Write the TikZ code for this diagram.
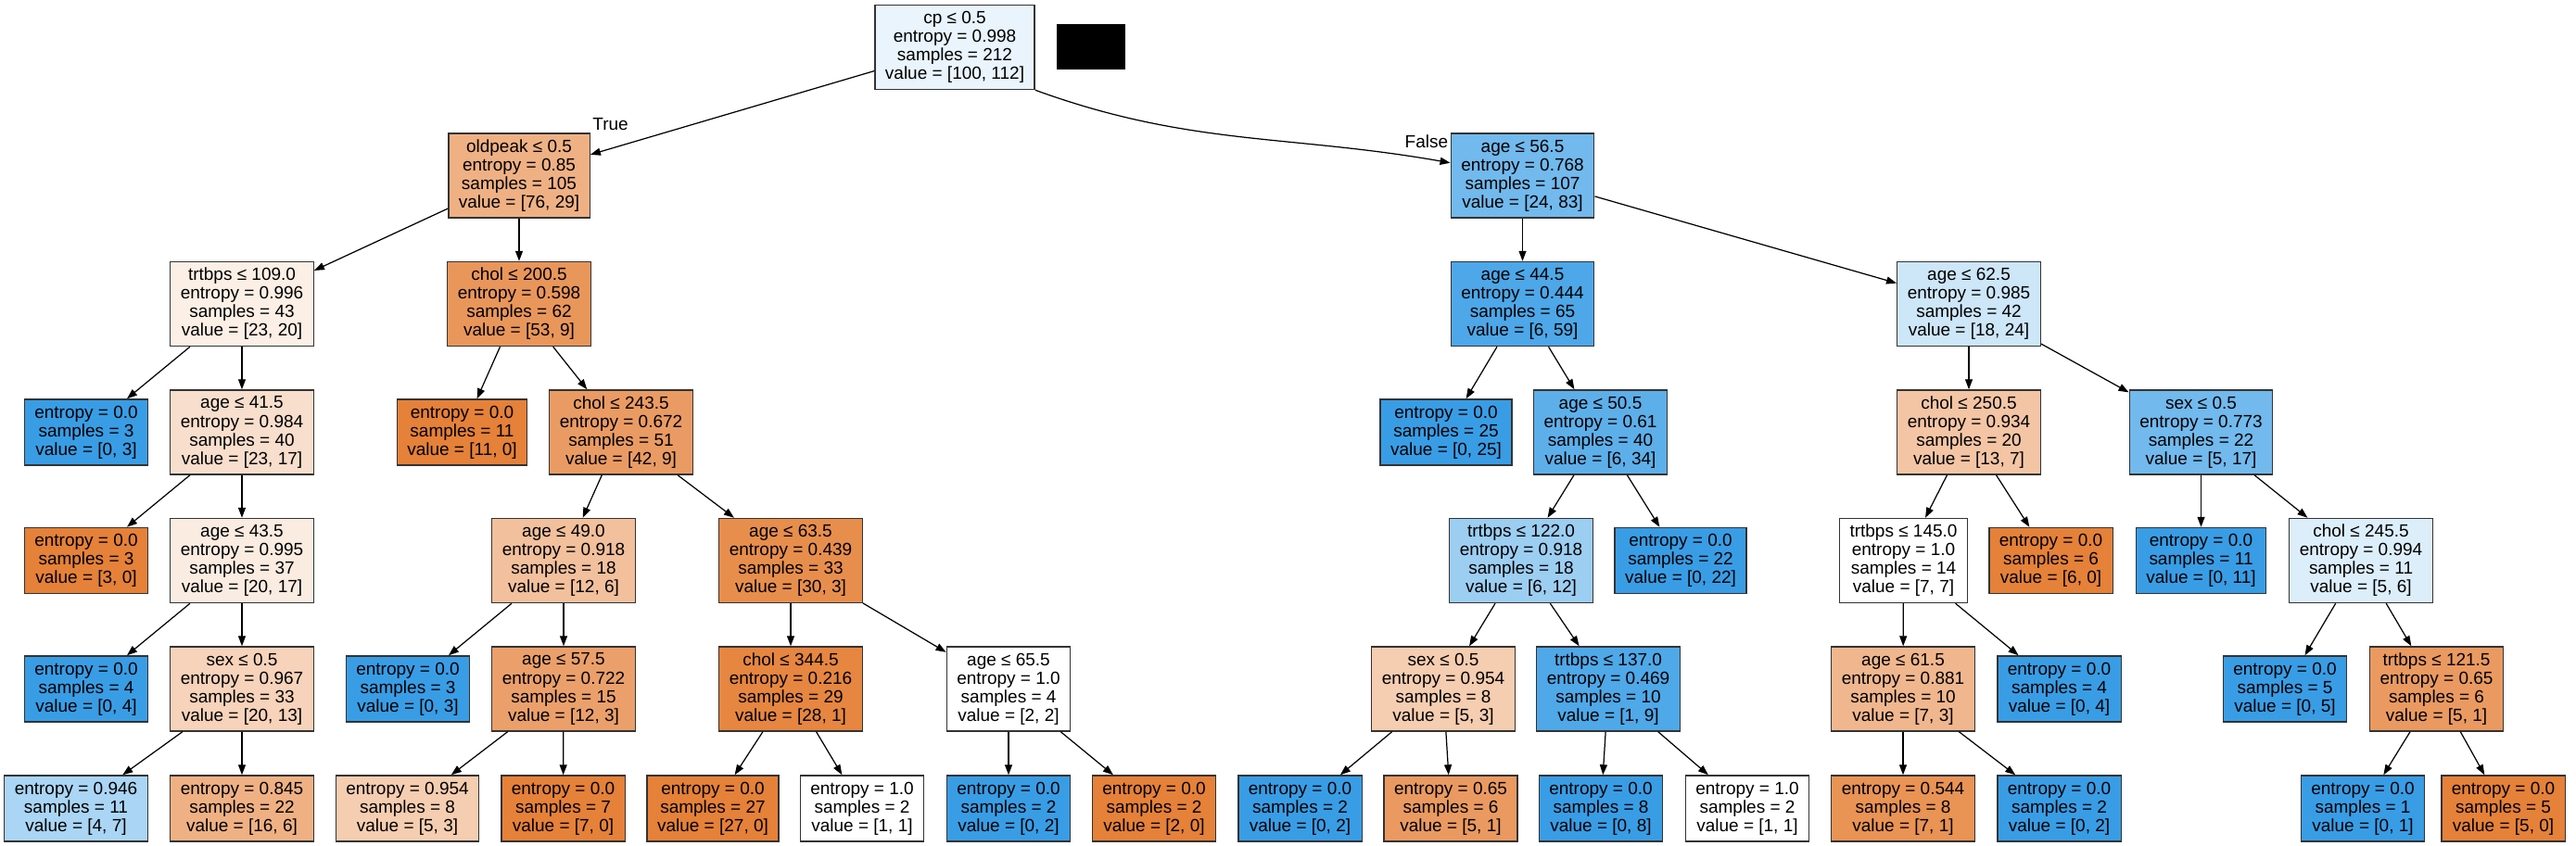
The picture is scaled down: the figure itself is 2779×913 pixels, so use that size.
\documentclass[tikz,border=0pt]{standalone}
\usepackage{fontspec}
\setmainfont{Liberation Sans}
\usetikzlibrary{arrows.meta}
\definecolor{clsA}{HTML}{E58139}
\definecolor{clsB}{HTML}{399DE5}

\begin{document}
\begin{tikzpicture}[
    x=0.01cm, y=-0.01cm, % one unit = one pixel of the reference
    every node/.style={font=\fontsize{5.4pt}{5.7pt}\selectfont},
    splitnode/.style={draw=black!80, line width=0.4pt, rectangle, fill=#1, align=center, minimum height=0.91cm, inner xsep=0.11cm, inner ysep=0pt}, % four text lines
    leafnode/.style={splitnode=#1, minimum height=0.71cm}, % three text lines
    treeedge/.style={-{Triangle[length=0.11cm,width=0.08cm]}, line width=0.35pt},
    branchlabel/.style={inner sep=0.5pt}
]
\useasboundingbox (0,0) rectangle (2779,913);

% root and first split
\node[splitnode=clsB!11] (root) at (1030,51) {cp ≤ 0.5\\entropy = 0.998\\samples = 212\\value = [100, 112]};
\fill[black] (1140,26) rectangle (1214,75);
\node[splitnode=clsA!62] (oldpeak) at (560,189.5) {oldpeak ≤ 0.5\\entropy = 0.85\\samples = 105\\value = [76, 29]};
\node[splitnode=clsB!71] (ageA) at (1642.5,189.5) {age ≤ 56.5\\entropy = 0.768\\samples = 107\\value = [24, 83]};
\node[branchlabel, anchor=south west] (truelbl) at (oldpeak.north east) {True};
\node[branchlabel, anchor=north east] (falselbl) at (ageA.north west) {False};

% left half
\node[splitnode=clsA!13] (trtbpsA) at (261,328) {trtbps ≤ 109.0\\entropy = 0.996\\samples = 43\\value = [23, 20]};
\node[splitnode=clsA!83] (cholA) at (560,328) {chol ≤ 200.5\\entropy = 0.598\\samples = 62\\value = [53, 9]};
\node[leafnode=clsB] (leafA) at (93,466.5) {entropy = 0.0\\samples = 3\\value = [0, 3]};
\node[splitnode=clsA!26] (ageB) at (261,466.5) {age ≤ 41.5\\entropy = 0.984\\samples = 40\\value = [23, 17]};
\node[leafnode=clsA] (leafB) at (498.5,466.5) {entropy = 0.0\\samples = 11\\value = [11, 0]};
\node[splitnode=clsA!79] (cholB) at (670,466.5) {chol ≤ 243.5\\entropy = 0.672\\samples = 51\\value = [42, 9]};
\node[leafnode=clsA] (leafC) at (93,605) {entropy = 0.0\\samples = 3\\value = [3, 0]};
\node[splitnode=clsA!15] (ageC) at (261,605) {age ≤ 43.5\\entropy = 0.995\\samples = 37\\value = [20, 17]};
\node[splitnode=clsA!50] (ageD) at (608,605) {age ≤ 49.0\\entropy = 0.918\\samples = 18\\value = [12, 6]};
\node[splitnode=clsA!90] (ageE) at (853,605) {age ≤ 63.5\\entropy = 0.439\\samples = 33\\value = [30, 3]};
\node[leafnode=clsB] (leafD) at (93,743.5) {entropy = 0.0\\samples = 4\\value = [0, 4]};
\node[splitnode=clsA!35] (sexA) at (261,743.5) {sex ≤ 0.5\\entropy = 0.967\\samples = 33\\value = [20, 13]};
\node[leafnode=clsB] (leafE) at (440,743.5) {entropy = 0.0\\samples = 3\\value = [0, 3]};
\node[splitnode=clsA!75] (ageF) at (608,743.5) {age ≤ 57.5\\entropy = 0.722\\samples = 15\\value = [12, 3]};
\node[splitnode=clsA!96] (cholC) at (853,743.5) {chol ≤ 344.5\\entropy = 0.216\\samples = 29\\value = [28, 1]};
\node[splitnode=white] (ageG) at (1088,743.5) {age ≤ 65.5\\entropy = 1.0\\samples = 4\\value = [2, 2]};
\node[leafnode=clsB!43] (leafF) at (82,872.5) {entropy = 0.946\\samples = 11\\value = [4, 7]};
\node[leafnode=clsA!62] (leafG) at (261,872.5) {entropy = 0.845\\samples = 22\\value = [16, 6]};
\node[leafnode=clsA!40] (leafH) at (439.5,872.5) {entropy = 0.954\\samples = 8\\value = [5, 3]};
\node[leafnode=clsA] (leafI) at (607.5,872.5) {entropy = 0.0\\samples = 7\\value = [7, 0]};
\node[leafnode=clsA] (leafJ) at (769,872.5) {entropy = 0.0\\samples = 27\\value = [27, 0]};
\node[leafnode=white] (leafK) at (930,872.5) {entropy = 1.0\\samples = 2\\value = [1, 1]};
\node[leafnode=clsB] (leafL) at (1088,872.5) {entropy = 0.0\\samples = 2\\value = [0, 2]};
\node[leafnode=clsA] (leafM) at (1245,872.5) {entropy = 0.0\\samples = 2\\value = [2, 0]};

% right half
\node[splitnode=clsB!90] (ageH) at (1642.5,328) {age ≤ 44.5\\entropy = 0.444\\samples = 65\\value = [6, 59]};
\node[splitnode=clsB!25] (ageI) at (2124,328) {age ≤ 62.5\\entropy = 0.985\\samples = 42\\value = [18, 24]};
\node[leafnode=clsB] (leafN) at (1560,466.5) {entropy = 0.0\\samples = 25\\value = [0, 25]};
\node[splitnode=clsB!82] (ageJ) at (1726.5,466.5) {age ≤ 50.5\\entropy = 0.61\\samples = 40\\value = [6, 34]};
\node[splitnode=clsA!46] (cholD) at (2124,466.5) {chol ≤ 250.5\\entropy = 0.934\\samples = 20\\value = [13, 7]};
\node[splitnode=clsB!71] (sexB) at (2374.5,466.5) {sex ≤ 0.5\\entropy = 0.773\\samples = 22\\value = [5, 17]};
\node[splitnode=clsB!50] (trtbpsB) at (1641,605) {trtbps ≤ 122.0\\entropy = 0.918\\samples = 18\\value = [6, 12]};
\node[leafnode=clsB] (leafO) at (1813,605) {entropy = 0.0\\samples = 22\\value = [0, 22]};
\node[splitnode=white] (trtbpsC) at (2053.5,605) {trtbps ≤ 145.0\\entropy = 1.0\\samples = 14\\value = [7, 7]};
\node[leafnode=clsA] (leafP) at (2212.5,605) {entropy = 0.0\\samples = 6\\value = [6, 0]};
\node[leafnode=clsB] (leafQ) at (2374.5,605) {entropy = 0.0\\samples = 11\\value = [0, 11]};
\node[splitnode=clsB!17] (cholE) at (2547,605) {chol ≤ 245.5\\entropy = 0.994\\samples = 11\\value = [5, 6]};
\node[splitnode=clsA!40] (sexC) at (1557,743.5) {sex ≤ 0.5\\entropy = 0.954\\samples = 8\\value = [5, 3]};
\node[splitnode=clsB!89] (trtbpsD) at (1735,743.5) {trtbps ≤ 137.0\\entropy = 0.469\\samples = 10\\value = [1, 9]};
\node[splitnode=clsA!57] (ageK) at (2053,743.5) {age ≤ 61.5\\entropy = 0.881\\samples = 10\\value = [7, 3]};
\node[leafnode=clsB] (leafR) at (2221.5,743.5) {entropy = 0.0\\samples = 4\\value = [0, 4]};
\node[leafnode=clsB] (leafS) at (2465,743.5) {entropy = 0.0\\samples = 5\\value = [0, 5]};
\node[splitnode=clsA!80] (trtbpsE) at (2628.5,743.5) {trtbps ≤ 121.5\\entropy = 0.65\\samples = 6\\value = [5, 1]};
\node[leafnode=clsB] (leafT) at (1402.5,872.5) {entropy = 0.0\\samples = 2\\value = [0, 2]};
\node[leafnode=clsA!80] (leafU) at (1565,872.5) {entropy = 0.65\\samples = 6\\value = [5, 1]};
\node[leafnode=clsB] (leafV) at (1727,872.5) {entropy = 0.0\\samples = 8\\value = [0, 8]};
\node[leafnode=white] (leafW) at (1885,872.5) {entropy = 1.0\\samples = 2\\value = [1, 1]};
\node[leafnode=clsA!86] (leafX) at (2053,872.5) {entropy = 0.544\\samples = 8\\value = [7, 1]};
\node[leafnode=clsB] (leafY) at (2221.5,872.5) {entropy = 0.0\\samples = 2\\value = [0, 2]};
\node[leafnode=clsB] (leafZ) at (2549,872.5) {entropy = 0.0\\samples = 1\\value = [0, 1]};
\node[leafnode=clsA] (leafAA) at (2700.5,872.5) {entropy = 0.0\\samples = 5\\value = [5, 0]};

% connectors, parent -> child
\draw[treeedge] (root) -- (oldpeak);
\draw[treeedge] (root.south east) to[out=-20, in=170] (ageA.170);
\foreach \p/\c in {oldpeak/trtbpsA, oldpeak/cholA, trtbpsA/leafA, trtbpsA/ageB, cholA/leafB, cholA/cholB,
    ageB/leafC, ageB/ageC, cholB/ageD, cholB/ageE, ageC/leafD, ageC/sexA, ageD/leafE, ageD/ageF,
    ageE/cholC, ageE/ageG, sexA/leafF, sexA/leafG, ageF/leafH, ageF/leafI, cholC/leafJ, cholC/leafK,
    ageG/leafL, ageG/leafM,
    ageA/ageH, ageA/ageI, ageH/leafN, ageH/ageJ, ageI/cholD, ageI/sexB, ageJ/trtbpsB, ageJ/leafO,
    cholD/trtbpsC, cholD/leafP, sexB/leafQ, sexB/cholE, trtbpsB/sexC, trtbpsB/trtbpsD,
    trtbpsC/ageK, trtbpsC/leafR, cholE/leafS, cholE/trtbpsE, sexC/leafT, sexC/leafU,
    trtbpsD/leafV, trtbpsD/leafW, ageK/leafX, ageK/leafY, trtbpsE/leafZ, trtbpsE/leafAA}
    \draw[treeedge] (\p) -- (\c);
\end{tikzpicture}
\end{document}
